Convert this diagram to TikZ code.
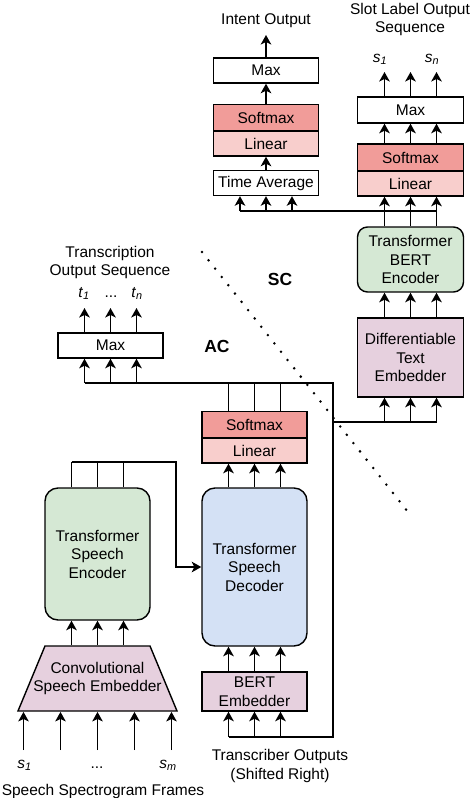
\documentclass[tikz,border=0pt]{standalone}
\usepackage{fontspec}
\setmainfont{Liberation Sans}
\usepackage{tikz}
\usetikzlibrary{arrows.meta}
\definecolor{softred}{HTML}{F19C99}
\definecolor{linred}{HTML}{F8CECC}
\definecolor{encgreen}{HTML}{D5E8D4}
\definecolor{decblue}{HTML}{D4E1F5}
\definecolor{embpurple}{HTML}{E6D0DE}
\tikzset{every node/.style={font=\fontsize{15.5}{18.5}\selectfont,inner sep=0pt,align=center},
  blk/.style={draw,line width=1.4pt,minimum width=105pt,minimum height=25pt,fill=white},
  soft/.style={blk,fill=softred,minimum height=26.5pt},
  lin/.style={blk,fill=linred},
  enc/.style={blk,fill=encgreen,rounded corners=13pt},
  dec/.style={blk,fill=decblue,rounded corners=13pt},
  emb/.style={blk,fill=embpurple},
  conv/.style={minimum width=159pt,minimum height=65pt},
  convline/.style={draw,line width=1.4pt,fill=embpurple,line join=miter},
  lbl/.style={},
  tag/.style={font=\fontsize{17.5}{20}\selectfont\bfseries},
  divider/.style={line width=2.8pt,line cap=round,dash pattern=on 0pt off 10.6pt},
  >={Stealth[length=9.5pt,width=10.5pt,inset=2.5pt]}}
\def\cn#1#2{\draw[->] (#1) to (#2);}
\def\tri#1#2{\foreach \dx in {-26,0,26} \draw[->] ([xshift=\dx pt]#1) -- ([xshift=\dx pt]#2);}
\newcommand{\nbox}[4][]{\node[#1] (#2) at (#3) {#4};}

\begin{document}
\begin{tikzpicture}[x=1pt,y=-1pt,line width=1.8pt]
    \useasboundingbox (0,0) rectangle (472,798);

    \nbox[lbl]{intent}{266,20.5}{Intent Output}
    \nbox[blk]{imax}{266,70.5}{Max}
    \nbox[soft]{isoft}{266,118}{Softmax}
    \nbox[lin]{ilin}{266,143.5}{Linear}
    \nbox[blk]{tavg}{266,183}{Time Average}

    \nbox[lbl]{slot}{410,19.5}{Slot Label Output\\Sequence}
    \nbox[lbl,anchor=base]{s1}{380,62}{\textit{s}\textsubscript{\textit{1}}}
    \nbox[lbl,anchor=base]{sn}{432,62}{\textit{s}\textsubscript{\textit{n}}}
    \nbox[blk,minimum width=106pt,minimum height=26pt]{smax}{410.5,110}{Max}
    \nbox[soft,minimum width=106pt,minimum height=27pt]{ssoft}{410.5,157.5}{Softmax}
    \nbox[lin,minimum width=106pt]{slin}{410.5,183.5}{Linear}
    \nbox[enc,minimum width=106pt,minimum height=65pt,rounded corners=10pt]{bertenc}{410.5,259.5}{Transformer\\BERT\\Encoder}
    \nbox[emb,minimum width=106pt,minimum height=79pt]{dte}{410.5,357.5}{Differentiable\\Text\\Embedder}

    \nbox[tag]{sclbl}{280,279}{SC}
    \nbox[tag]{aclbl}{217,346}{AC}
    \draw[divider] (202,252) -- (412,517);

    \nbox[lbl]{trans}{110,262.5}{Transcription\\Output Sequence}
    \nbox[lbl,anchor=base]{t1}{84,297}{\textit{t}\textsubscript{\textit{1}}}
    \nbox[lbl,anchor=base]{tdots}{111,297}{...}
    \nbox[lbl,anchor=base]{tn}{137,297}{\textit{t}\textsubscript{\textit{n}}}
    \nbox[blk]{tmax}{110.5,345.5}{Max}

    \nbox[soft]{asoft}{254.5,424.5}{Softmax}
    \nbox[lin]{alin}{254.5,450.5}{Linear}
    \nbox[dec,minimum height=158pt]{dec}{254.5,567}{Transformer\\Speech\\Decoder}
    \nbox[emb,minimum height=39pt]{bemb}{254.5,691.5}{BERT\\Embedder}
    \nbox[lbl]{shifted}{280,766}{Transcriber Outputs\\(Shifted Right)}

    \nbox[enc,minimum height=132pt]{enc}{97.5,554}{Transformer\\Speech\\Encoder}
    \draw[convline] (18,711) -- (177,711) -- (150,646) -- (45,646) -- cycle;
    \nbox[conv]{conv}{97.5,678.5}{Convolutional\\Speech Embedder}
    \nbox[lbl,anchor=base]{in1}{24.5,768}{\textit{s}\textsubscript{\textit{1}}}
    \nbox[lbl,anchor=base]{indots}{97,768}{...}
    \nbox[lbl,anchor=base]{inm}{168,768}{\textit{s}\textsubscript{\textit{m}}}
    \nbox[lbl]{frames}{103,791}{Speech Spectrogram Frames}

    \coordinate (iout) at (266,35);
    \coordinate (sout) at (410.5,72);
    \coordinate (tout) at (110.5,308);
    \coordinate (sin) at (97.5,750);
    \coordinate (tj) at (266,211);
    \coordinate (fbtop) at (333,383);
    \coordinate (fbmid) at (333,422);
    \coordinate (fbbot) at (333,737);
    \coordinate (ej) at (176,462);

    \cn{imax.north}{iout}
    \cn{isoft.north}{imax.south}
    \cn{tavg.north}{ilin.south}
    \draw ([xshift=-26pt]tavg.south |- tj) -- ([xshift=26pt]slin.south |- tj);
    \tri{tavg.south |- tj}{tavg.south}
    \tri{smax.north}{sout}
    \tri{ssoft.north}{smax.south}
    \tri{bertenc.north}{slin.south}
    \tri{dte.north}{bertenc.south}
    \draw (fbmid) -- ([xshift=26pt]dte.south |- fbmid);
    \tri{dte.south |- fbmid}{dte.south}

    \tri{tmax.north}{tout}
    \tri{tmax.south |- fbtop}{tmax.south}
    \draw ([xshift=-26pt]tmax.south |- fbtop) -- (fbtop) -- (fbbot) -- ([xshift=-26pt]bemb.south |- fbbot);
    \foreach \dx in {-26,0,26} \draw ([xshift=\dx pt]asoft.north) -- ([xshift=\dx pt]asoft.north |- fbtop);
    \tri{dec.north}{alin.south}
    \tri{bemb.north}{dec.south}
    \tri{bemb.south |- fbbot}{bemb.south}

    \foreach \dx in {-26,0,26} \draw ([xshift=\dx pt]enc.north) -- ([xshift=\dx pt]enc.north |- ej);
    \draw[->] ([xshift=-26pt]enc.north |- ej) -- (ej) |- (dec.west);
    \tri{conv.north}{enc.south}
    \foreach \dx in {-74,-37,0,37,74} \draw[->] ([xshift=\dx pt]sin) -- ([xshift=\dx pt]conv.south);
\end{tikzpicture}
\end{document}
